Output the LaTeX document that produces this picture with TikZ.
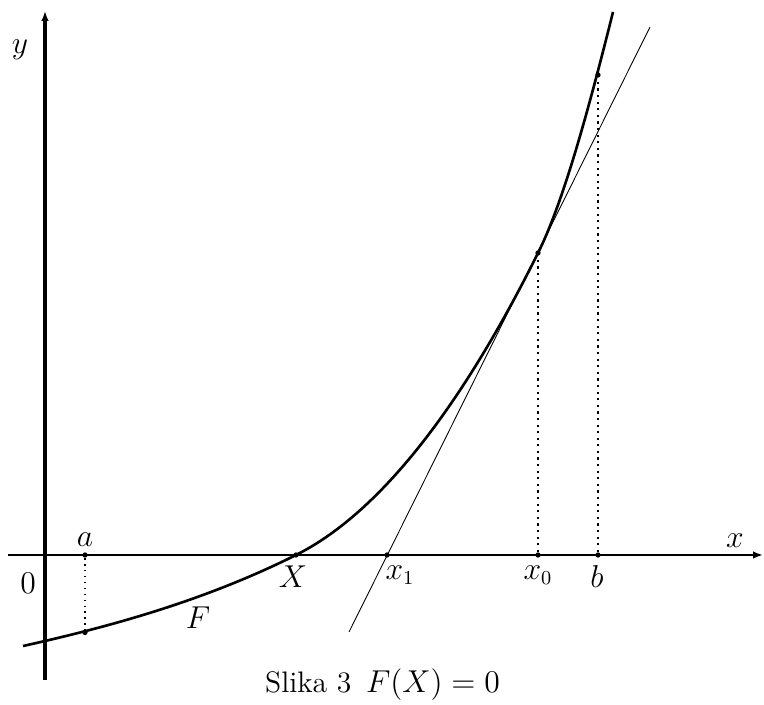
\documentclass[tikz,border=0pt]{standalone}
\usepackage{tikz}
\usetikzlibrary{arrows.meta}

\begin{document}
\begin{tikzpicture}[x=0.16cm, y=0.16cm,
    axis/.style={-{Latex[length=4.5pt,width=3.4pt]}},
    curve/.style={line width=1.2pt},
    tang/.style={line width=0.4pt},
    drop/.style={dotted, line width=1pt},
    pt/.style={circle, fill, inner sep=0pt, minimum size=2.4pt},
    lbl/.style={font=\fontsize{13.5}{16}\selectfont, inner sep=0pt}
  ]
    \useasboundingbox (-4.5,-15) rectangle (71.9,55.5);

    % axes
    \coordinate (O) at (0,0);
    \coordinate (xs) at (-3.7,0);
    \coordinate (xe) at (71.8,0);
    \coordinate (ys) at (0,-12.5);
    \coordinate (ye) at (0,54.4);
    \draw[axis, line width=0.9pt] (xs) -- (xe);
    \draw[axis, line width=1.4pt] (ys) -- (ye);

    % the function F
    \coordinate (F0) at (-2.2,-9.1);
    \coordinate (F1) at (56.8,54.3);
    \draw[curve] (F0) .. controls (6.8,-7.1) and (16.1,-4.5) .. (25.1,0)
                      .. controls (33.1,4.0) and (41.3,14.1) .. (49.3,30.2)
                      .. controls (51.8,35.2) and (54.3,44.3) .. (F1);

    % tangent at x0
    \coordinate (t1) at (30.4,-7.7);
    \coordinate (t2) at (60.5,52.8);
    \draw[tang] (t1) -- (t2);

    % points on the axis and on the curve
    \node[pt] (a) at (4,0) {};
    \node[pt] (Fa) at (4,-7.75) {};
    \node[pt] (X) at (25.1,0) {};
    \node[pt] (x1) at (34.2,0) {};
    \node[pt] (x0) at (49.3,0) {};
    \node[pt] (Fx0) at (49.3,30.2) {};
    \node[pt] (b) at (55.3,0) {};
    \node[pt] (Fb) at (55.3,48.0) {};

    \draw[dotted, line width=0.7pt] (a) -- (Fa);
    \draw[drop] (x0) -- (Fx0);
    \draw[drop] (b) -- (Fb);

    % labels
    \node[lbl] (ly) at (-2.5,50.5) {$y$};
    \node[lbl] (lx) at (69,1.4) {$x$};
    \node[lbl] (l0) at (-1.7,-2.8) {$0$};
    \node[lbl] (la) at (4,1.5) {$a$};
    \node[lbl] (lX) at (24.8,-2.2) {$X$};
    \node[lbl] (lF) at (15.3,-6.3) {$F$};
    \node[lbl] (lx1) at (35.5,-2.0) {$x_1$};
    \node[lbl] (lx0) at (49.3,-2.0) {$x_0$};
    \node[lbl] (lb) at (55.2,-2.2) {$b$};

    \node[lbl, anchor=base] (cap) at (33.75,-13.7) {Slika 3\, $F(X)=0$};
\end{tikzpicture}
\end{document}
